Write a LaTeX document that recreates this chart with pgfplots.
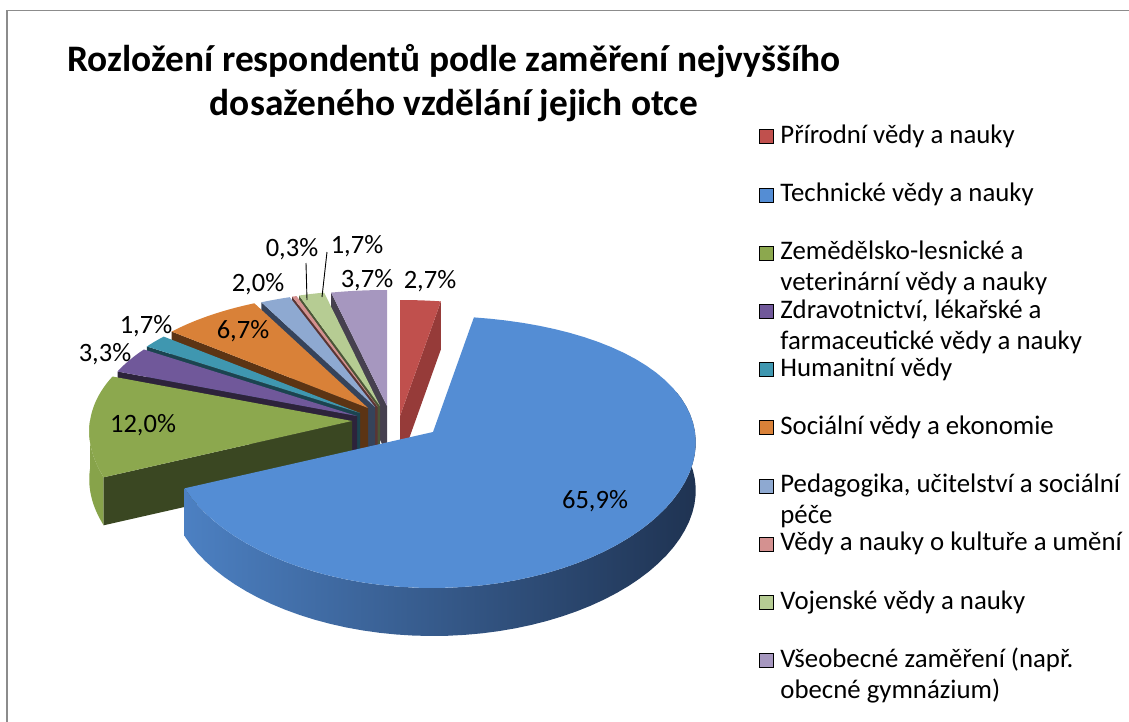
\documentclass[border=0pt]{standalone}
\usepackage{fontspec}
\setmainfont{Carlito}
\usepackage{pgfplots}
\pgfplotsset{compat=1.18}

% top colours and dark cut-face colours
\definecolor{cRed}{HTML}{C0504D}\definecolor{fRed}{HTML}{963B39}
\definecolor{cBlu}{HTML}{548DD4}
\definecolor{bS1}{HTML}{4C80C2}\definecolor{bS2}{HTML}{30547F}\definecolor{bS3}{HTML}{1F3352}
\definecolor{cGrn}{HTML}{8CA84E}\definecolor{sGrn}{HTML}{87A34A}\definecolor{fGrn}{HTML}{3A4722}
\definecolor{cPur}{HTML}{70589A}\definecolor{fPur}{HTML}{2D233B}
\definecolor{cTea}{HTML}{3F97B0}\definecolor{fTea}{HTML}{1B4450}
\definecolor{cOra}{HTML}{D98138}\definecolor{fOra}{HTML}{5C3414}
\definecolor{cLbl}{HTML}{8EA9D1}\definecolor{fLbl}{HTML}{36435A}
\definecolor{cPnk}{HTML}{D49190}\definecolor{fPnk}{HTML}{5A3534}
\definecolor{cLgr}{HTML}{B6CC93}\definecolor{fLgr}{HTML}{4B5637}
\definecolor{cLav}{HTML}{A697BF}\definecolor{fLav}{HTML}{46404F}

% slice pieces; #1,#2 = cumulative percent, #3,#4 = slice vertex (px)
\newcommand{\pietop}[5]{%
  \addplot[forget plot, draw=none, fill=#5, domain=3.6*#1:3.6*#2, samples=60, variable=\t]
    ({#3+px(\t)}, {#4+py(\t)}) -- (axis cs:#3,#4) -- cycle;}
\newcommand{\pieface}[4]{%
  \addplot[forget plot, draw=none, fill=#4, domain=0:3, samples=4, variable=\t]
    ({#2+rr(\t)*px(3.6*#1)}, {#3+rr(\t)*py(3.6*#1)+48*hh(\t)}) -- cycle;}
\newcommand{\pieside}[5]{%
  \addplot[forget plot, draw=none, #5, domain=0:3, samples=151, variable=\t]
    ({#3+px(3.6*(#1+(#2-#1)*rr(\t)))}, {#4+py(3.6*(#1+(#2-#1)*rr(\t)))+48*hh(\t)}) -- cycle;}
\newcommand{\two}[2]{\vtop{\hbox{#1}\hbox{#2}}}

\begin{document}
\begin{tikzpicture}
\begin{axis}[
  width=1129pt, height=722pt, scale only axis,
  xmin=0, xmax=1129, ymin=0, ymax=722, y dir=reverse,
  hide axis, clip=false,
  declare function={
    px(\a)=(262-20*cos(\a))*sin(\a);
    py(\a)=-136*cos(\a)+20*cos(\a)^2;
    rr(\s)=min(\s,1)-max(\s-2,0);
    hh(\s)=min(max(\s-1,0),1);
  },
  legend image code/.code={\fill[#1] (0pt,0pt) rectangle (14pt,14pt);},
  legend style={at={(axis cs:759,125.5)}, anchor=north west, draw=none, fill=none,
    inner sep=0pt, outer sep=0pt, row sep=0pt, column sep=7pt,
    cells={anchor=base west},
    nodes={inner sep=0pt, outer sep=0pt, text height=18pt, text depth=40.2pt,
      font=\fontsize{26.8}{31}\selectfont}},
]
% back slices first
\pieface{96.3}{387}{406}{fLav}
\pietop{96.3}{100}{387}{406}{cLav}
\pieface{2.7}{400}{416}{fRed}
\pietop{0}{2.7}{400}{416}{cRed}
\pieface{94.6}{380}{406}{fLgr}
\pietop{94.6}{96.3}{380}{406}{cLgr}
\pieface{94.3}{377.5}{406.5}{fPnk}
\pietop{94.3}{94.6}{377.5}{406.5}{cPnk}
\pieface{92.3}{375}{407}{fLbl}
\pietop{92.3}{94.3}{375}{407}{cLbl}
\pieface{85.6}{368}{408}{fOra}
\pietop{85.6}{92.3}{368}{408}{cOra}
\pieface{83.9}{360}{413}{fTea}
\pietop{83.9}{85.6}{360}{413}{cTea}
\pieface{80.6}{357}{416}{fPur}
\pietop{80.6}{83.9}{357}{416}{cPur}
\pieside{68.6}{75}{352}{421}{fill=sGrn}
\pieface{68.6}{352}{421}{fGrn}
\pietop{68.6}{80.6}{352}{421}{cGrn}
\pieside{20}{68.6}{433}{432}{left color=bS1, middle color=bS2, right color=bS3}
\pietop{2.7}{68.6}{433}{432}{cBlu}

\addlegendimage{fill=cRed}\addlegendentry{Přírodní vědy a nauky}
\addlegendimage{fill=cBlu}\addlegendentry{Technické vědy a nauky}
\addlegendimage{fill=cGrn}\addlegendentry{\two{Zemědělsko-lesnické a}{veterinární vědy a nauky}}
\addlegendimage{fill=cPur}\addlegendentry{\two{Zdravotnictví, lékařské a}{farmaceutické vědy a nauky}}
\addlegendimage{fill=cTea}\addlegendentry{Humanitní vědy}
\addlegendimage{fill=cOra}\addlegendentry{Sociální vědy a ekonomie}
\addlegendimage{fill=cLbl}\addlegendentry{\two{Pedagogika, učitelství a sociální}{péče}}
\addlegendimage{fill=cPnk}\addlegendentry{Vědy a nauky o kultuře a umění}
\addlegendimage{fill=cLgr}\addlegendentry{Vojenské vědy a nauky}
\addlegendimage{fill=cLav}\addlegendentry{\two{Všeobecné zaměření (např.}{obecné gymnázium)}}

% data labels
\begin{scope}[every node/.style={font=\fontsize{26.5}{31}\selectfont, anchor=base, inner sep=0pt}]
\node at (axis cs:595,508) {65,9\%};
\node at (axis cs:143,432) {12,0\%};
\node at (axis cs:105,361) {3,3\%};
\node at (axis cs:146,333) {1,7\%};
\node at (axis cs:243,338) {6,7\%};
\node at (axis cs:258,291) {2,0\%};
\node at (axis cs:292,256) {0,3\%};
\node at (axis cs:357,253) {1,7\%};
\node at (axis cs:367,287) {3,7\%};
\node at (axis cs:430,288) {2,7\%};
\end{scope}
\draw[black, line width=0.9pt] (axis cs:306,263) -- (axis cs:307,300);
\draw[black, line width=0.9pt] (axis cs:327,252) -- (axis cs:322,297);

% title
\node[font=\fontsize{37.4}{44}\selectfont\bfseries, anchor=base] at (axis cs:454,72) {Rozložení respondentů podle zaměření nejvyššího};
\node[font=\fontsize{37.4}{44}\selectfont\bfseries, anchor=base] at (axis cs:454,116) {dosaženého vzdělání jejich otce};

% chart frame
\draw[color=black!45, line width=2pt] (axis cs:7.3,722) -- (axis cs:7.3,10.5);
\draw[color=black!45, line width=1.2pt] (axis cs:6.3,10.5) -- (axis cs:1129,10.5);
\end{axis}
\pgfresetboundingbox
\path[use as bounding box] (current axis.south west) rectangle (current axis.north east);
\end{tikzpicture}
\end{document}
